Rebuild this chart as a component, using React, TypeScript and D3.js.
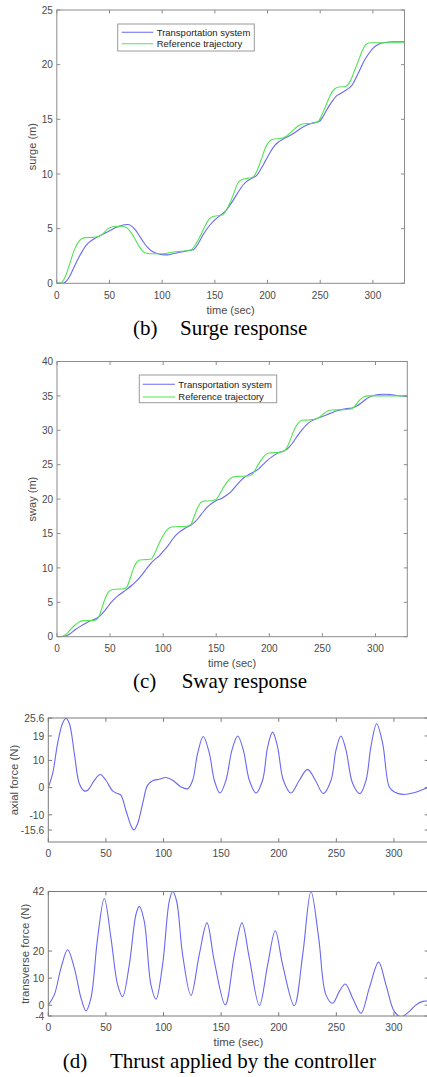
import React from "react";
import * as d3 from "d3";

// ---------- data ----------
const timeTicks = [0, 50, 100, 150, 200, 250, 300];
const surgeTicks = [0, 5, 10, 15, 20, 25];
const swayTicks = [0, 5, 10, 15, 20, 25, 30, 35, 40];
const axialTicks = [-15.6, -10, 0, 10, 19, 25.6];
const transverseTicks = [-4, 0, 10, 20, 42];
const legendLabels = ["Transportation system", "Reference trajectory"];

const surgeReference: [number, number][] = [
  [0, 0], [4, 0.05], [8, 0.6], [12, 1.7], [16, 2.9], [20, 3.7], [24, 4.1], [28, 4.18], [34, 4.2], [40, 4.3],
  [44, 4.55], [48, 4.95], [52, 5.15], [56, 5.22], [62, 5.22], [66, 5.1], [70, 4.7], [74, 4.1], [78, 3.4],
  [82, 2.9], [86, 2.72], [92, 2.7], [100, 2.7], [106, 2.78], [112, 2.88], [118, 2.92], [124, 3.0], [128, 3.1],
  [132, 3.6], [136, 4.3], [140, 5.1], [144, 5.8], [148, 6.1], [152, 6.18], [157, 6.25], [161, 6.7], [165, 7.5],
  [169, 8.5], [172, 9.2], [176, 9.5], [181, 9.6], [186, 9.7], [190, 10.3], [194, 11.3], [198, 12.4], [202, 13.0],
  [206, 13.2], [212, 13.25], [217, 13.4], [222, 13.8], [226, 14.15], [230, 14.45], [234, 14.6], [242, 14.62],
  [248, 14.8], [252, 15.5], [256, 16.4], [260, 17.3], [264, 17.8], [268, 17.95], [274, 18.0], [278, 18.4],
  [282, 19.3], [286, 20.3], [290, 21.3], [294, 21.9], [298, 22.0], [310, 22.0], [330, 22.0],
];
const surgeSystem: [number, number][] = [
  [0, 0], [5, 0.0], [8, 0.1], [12, 0.6], [16, 1.4], [20, 2.2], [24, 2.9], [28, 3.5], [32, 3.85], [36, 4.1],
  [40, 4.3], [44, 4.5], [48, 4.7], [52, 4.9], [56, 5.1], [60, 5.25], [64, 5.35], [67, 5.38], [70, 5.3],
  [74, 4.95], [78, 4.4], [82, 3.8], [86, 3.3], [90, 2.95], [95, 2.72], [100, 2.62], [105, 2.6], [110, 2.7],
  [115, 2.8], [120, 2.9], [126, 3.0], [130, 3.1], [134, 3.6], [138, 4.3], [142, 4.9], [146, 5.4], [150, 5.8],
  [155, 6.2], [160, 6.6], [164, 7.1], [168, 7.7], [172, 8.3], [176, 8.9], [180, 9.3], [185, 9.6], [190, 9.9],
  [194, 10.5], [198, 11.2], [202, 11.9], [206, 12.5], [210, 12.9], [215, 13.2], [220, 13.45], [226, 13.8],
  [232, 14.2], [238, 14.5], [244, 14.7], [249, 14.8], [253, 15.3], [257, 16.0], [261, 16.6], [265, 17.1],
  [270, 17.4], [275, 17.7], [280, 18.1], [284, 18.8], [288, 19.6], [292, 20.4], [296, 21.0], [300, 21.5],
  [305, 21.85], [310, 22.0], [320, 22.1], [330, 22.1],
];

const swayReference: [number, number][] = [
  [0, 0], [5, 0.05], [9, 0.4], [13, 1.1], [17, 1.7], [21, 2.15], [24, 2.3], [30, 2.35], [36, 2.4], [39, 2.8],
  [42, 4.0], [45, 5.4], [48, 6.4], [51, 6.8], [56, 6.9], [63, 6.95], [66, 7.3], [69, 8.5], [72, 9.9],
  [75, 10.8], [78, 11.15], [84, 11.2], [89, 11.3], [92, 12.1], [96, 13.5], [100, 14.7], [104, 15.6],
  [108, 15.95], [114, 16.0], [122, 16.05], [126, 16.3], [129, 17.4], [132, 18.6], [135, 19.4], [138, 19.7],
  [145, 19.75], [150, 20.0], [154, 20.9], [158, 22.0], [162, 22.8], [166, 23.2], [170, 23.3], [180, 23.35],
  [184, 23.6], [188, 24.6], [192, 25.6], [196, 26.4], [200, 26.7], [210, 26.8], [215, 27.1], [219, 28.3],
  [223, 29.9], [227, 31.0], [231, 31.45], [236, 31.5], [243, 31.6], [247, 31.9], [251, 32.4], [255, 32.8],
  [259, 32.95], [270, 33.0], [277, 33.1], [281, 33.6], [285, 34.4], [289, 34.85], [293, 35.0], [310, 35.0],
  [330, 35.0],
];
const swaySystem: [number, number][] = [
  [0, 0], [5, 0.0], [8, 0.1], [12, 0.4], [17, 1.0], [22, 1.5], [27, 1.95], [32, 2.35], [37, 2.65], [41, 3.1],
  [45, 3.8], [49, 4.6], [53, 5.3], [57, 5.9], [61, 6.35], [65, 6.8], [70, 7.4], [75, 8.1], [80, 9.0], [84, 9.8],
  [88, 10.6], [92, 11.2], [96, 11.7], [100, 12.4], [105, 13.3], [109, 14.2], [113, 14.9], [117, 15.4],
  [121, 15.8], [126, 16.2], [130, 16.7], [134, 17.4], [138, 18.2], [142, 18.9], [146, 19.4], [150, 19.8],
  [155, 20.1], [160, 20.6], [164, 21.1], [168, 21.8], [172, 22.5], [176, 23.1], [180, 23.5], [185, 23.9],
  [190, 24.4], [194, 25.0], [198, 25.6], [202, 26.1], [206, 26.5], [210, 26.8], [215, 27.1], [219, 27.6],
  [223, 28.4], [227, 29.3], [231, 30.1], [235, 30.8], [239, 31.3], [243, 31.6], [248, 31.9], [253, 32.2],
  [258, 32.5], [263, 32.8], [268, 33.0], [273, 33.15], [278, 33.25], [282, 33.5], [286, 33.9], [290, 34.4],
  [294, 34.8], [298, 35.05], [303, 35.2], [308, 35.25], [314, 35.2], [320, 35.05], [330, 34.9],
];

const axialForce: [number, number][] = [
  [0, 0], [3.8, 5.2], [8.1, 16.3], [12.4, 23.7], [15.3, 25.4], [18.2, 23.7], [22.6, 12.6], [26.9, 1.5],
  [31.2, -1.2], [34.1, -1.0], [40, 2.7], [45.1, 4.8], [50, 2.7], [55.8, -1.2], [60.2, -2.2], [63, -2.8],
  [67.4, -8.4], [71.8, -14], [74.3, -15.6], [77.5, -13.3], [81.9, -5.9], [86.2, 0.9], [90.6, 2.5], [96.4, 3.1],
  [102.1, 3.7], [108, 2.7], [115.2, 0.25], [121, -0.4], [125.3, 2.7], [129.6, 12.6], [134.5, 18.8],
  [139.8, 12.6], [144.1, 2.7], [149, -2.0], [154.2, 2.7], [159.4, 13.8], [164.4, 19], [169.3, 13.8],
  [174.5, 2.7], [180.3, -2], [186, 2.7], [190.4, 15], [194.7, 20.4], [199, 15], [204, 2.7], [210.6, -2],
  [217.9, 2.7], [225, 6.7], [231.8, 2.7], [238.7, -2.2], [245.4, 2.7], [249.7, 13.8], [254, 19], [258.4, 13.8],
  [264.2, 1.5], [270.5, -2.2], [275.8, 2.7], [280, 15], [285, 23.5], [290.2, 16.3], [296, 0.2], [300.4, -1.6],
  [307.6, -2.5], [316.3, -2.0], [327.8, -0.2], [330, 0.2],
];
const transverseForce: [number, number][] = [
  [0, 0.1], [5.2, 3.8], [11, 13.7], [16.8, 20.5], [22.6, 13.7], [28.4, 2.6], [32.7, -2.1], [37, 2.6],
  [42.8, 24.8], [48.6, 39.4], [54.4, 24.8], [60.2, 7.5], [64.5, 3.1], [70.3, 14.9], [76.1, 33.5], [79, 36.5],
  [83.3, 31], [89.1, 7.5], [93.5, 2.2], [99.2, 14.9], [105, 38.4], [108, 42], [111.4, 38.4], [116.6, 18.6],
  [123.8, 3.6], [131, 18.6], [137.7, 30.4], [144.1, 16.2], [153.6, 0.1], [161.5, 18.6], [168.1, 30.4],
  [174.5, 17.4], [183.2, -0.1], [190.4, 14.9], [197, 27.5], [203.4, 14.9], [213.5, -0.2], [220.8, 18.6],
  [228, 42], [234.7, 24.8], [241, 3.8], [246.8, 0.7], [252.6, 5.1], [257.8, 7.8], [264.2, 2.6], [271.4, -3],
  [278.6, 6.3], [286.7, 15.9], [293.1, 7.5], [300.3, -2.3], [306.1, -4.3], [313.4, -2.3], [319.2, 0.1],
  [325, 1.4], [330, 1.5],
];

// ---------- styling ----------
const BLUE = "#6868f2";
const GREEN = "#52e452";
const SANS = "'Liberation Sans', Arial, sans-serif";
const SERIF = "'Liberation Serif', 'Times New Roman', serif";

type Series = { data: [number, number][]; color: string; curve: any };

type PanelCfg = {
  id: string;
  left: number; right: number; top: number; bottom: number;
  yDomain: [number, number];
  yTicks: number[];
  yLabel: string; yLabelX: number;
  xLabel?: string; xLabelY?: number;
  xTickY: number;
  fontSize: number;
  tickLen: number;
  boxColor: string;
  series: Series[];
  legend?: { x: number; y: number; w: number; h: number; lineX1: number; lineX2: number; textX: number; rows: number[] };
};

function Panel({ cfg }: { cfg: PanelCfg }) {
  const x = d3.scaleLinear().domain([0, 330]).range([cfg.left, cfg.right]);
  const y = d3.scaleLinear().domain(cfg.yDomain).range([cfg.bottom, cfg.top]);
  const tickColor = cfg.boxColor;
  const labelColor = "#4a4a4a";
  return (
    <g>
      <defs>
        <clipPath id={`clip-${cfg.id}`}>
          <rect x={cfg.left} y={cfg.top} width={cfg.right - cfg.left} height={cfg.bottom - cfg.top} />
        </clipPath>
      </defs>
      <rect x={cfg.left} y={cfg.top} width={cfg.right - cfg.left} height={cfg.bottom - cfg.top} fill="#fff" />
      <g clipPath={`url(#clip-${cfg.id})`}>
        {cfg.series.map((s, i) => {
          const line = d3
            .line<[number, number]>()
            .x((d) => x(d[0]))
            .y((d) => y(d[1]))
            .curve(s.curve);
          return <path key={i} d={line(s.data) || ""} fill="none" stroke={s.color} strokeWidth={1.1} />;
        })}
      </g>
      <rect x={cfg.left} y={cfg.top} width={cfg.right - cfg.left} height={cfg.bottom - cfg.top} fill="none" stroke={cfg.boxColor} strokeWidth={1} />
      {timeTicks.map((t) => (
        <g key={`xt${t}`}>
          <line x1={x(t)} x2={x(t)} y1={cfg.bottom} y2={cfg.bottom - cfg.tickLen} stroke={tickColor} />
          <line x1={x(t)} x2={x(t)} y1={cfg.top} y2={cfg.top + cfg.tickLen} stroke={tickColor} />
          <text x={x(t)} y={cfg.xTickY} textAnchor="middle" fontFamily={SANS} fontSize={cfg.fontSize} fill={labelColor}>
            {t}
          </text>
        </g>
      ))}
      {cfg.yTicks.map((v) => (
        <g key={`yt${v}`}>
          <line x1={cfg.left} x2={cfg.left + cfg.tickLen} y1={y(v)} y2={y(v)} stroke={tickColor} />
          <line x1={cfg.right} x2={cfg.right - cfg.tickLen} y1={y(v)} y2={y(v)} stroke={tickColor} />
          <text x={cfg.left - 4} y={y(v) + cfg.fontSize * 0.36} textAnchor="end" fontFamily={SANS} fontSize={cfg.fontSize} fill={labelColor}>
            {String(v)}
          </text>
        </g>
      ))}
      <text
        transform={`translate(${cfg.yLabelX},${(cfg.top + cfg.bottom) / 2}) rotate(-90)`}
        textAnchor="middle"
        fontFamily={SANS}
        fontSize={cfg.fontSize * 1.1}
        fill={labelColor}
      >
        {cfg.yLabel}
      </text>
      {cfg.xLabel && (
        <text x={(cfg.left + cfg.right) / 2} y={cfg.xLabelY} textAnchor="middle" fontFamily={SANS} fontSize={cfg.fontSize * 1.1} fill={labelColor}>
          {cfg.xLabel}
        </text>
      )}
      {cfg.legend && (
        <g>
          <rect x={cfg.legend.x} y={cfg.legend.y} width={cfg.legend.w} height={cfg.legend.h} fill="#fff" stroke="#9a9a9a" strokeWidth={1} />
          {legendLabels.map((lab, i) => (
            <g key={lab}>
              <line
                x1={cfg.legend!.lineX1}
                x2={cfg.legend!.lineX2}
                y1={cfg.legend!.rows[i]}
                y2={cfg.legend!.rows[i]}
                stroke={cfg.series[i].color}
                strokeWidth={1.1}
              />
              <text x={cfg.legend!.textX} y={cfg.legend!.rows[i] + 3.4} fontFamily={SANS} fontSize={9.5} fill="#222">
                {lab}
              </text>
            </g>
          ))}
        </g>
      )}
    </g>
  );
}

const monotone = d3.curveMonotoneX;
const smooth = d3.curveCatmullRom.alpha(0.5);

const panels: PanelCfg[] = [
  {
    id: "surge", left: 56.8, right: 404.5, top: 10, bottom: 283.3,
    yDomain: [0, 25], yTicks: surgeTicks, yLabel: "surge (m)", yLabelX: 36,
    xLabel: "time (sec)", xLabelY: 314, xTickY: 299, fontSize: 10, tickLen: 3.5, boxColor: "#8c8c8c",
    series: [
      { data: surgeSystem, color: BLUE, curve: monotone },
      { data: surgeReference, color: GREEN, curve: monotone },
    ],
    legend: { x: 117.7, y: 24, w: 136.6, h: 27, lineX1: 121.7, lineX2: 153.3, textX: 156.7, rows: [32.3, 43.7] },
  },
  {
    id: "sway", left: 57, right: 407.3, top: 361.5, bottom: 636.7,
    yDomain: [0, 40], yTicks: swayTicks, yLabel: "sway (m)", yLabelX: 36,
    xLabel: "time (sec)", xLabelY: 667, xTickY: 652, fontSize: 10, tickLen: 3.5, boxColor: "#8c8c8c",
    series: [
      { data: swaySystem, color: BLUE, curve: monotone },
      { data: swayReference, color: GREEN, curve: monotone },
    ],
    legend: { x: 139.3, y: 375, w: 137.4, h: 27.7, lineX1: 142.7, lineX2: 175, textX: 178.3, rows: [384.3, 397] },
  },
  {
    id: "axial", left: 48.3, right: 428.5, top: 718, bottom: 842,
    yDomain: [-20, 25.6], yTicks: axialTicks, yLabel: "axial force (N)", yLabelX: 18,
    xTickY: 857, fontSize: 10.3, tickLen: 3.8, boxColor: "#7a7a7a",
    series: [{ data: axialForce, color: BLUE, curve: smooth }],
  },
  {
    id: "transverse", left: 48.3, right: 428.5, top: 891.5, bottom: 1016,
    yDomain: [-4, 42], yTicks: transverseTicks, yLabel: "transverse force (N)", yLabelX: 29,
    xLabel: "time (sec)", xLabelY: 1046, xTickY: 1031, fontSize: 10.3, tickLen: 3.8, boxColor: "#7a7a7a",
    series: [{ data: transverseForce, color: BLUE, curve: smooth }],
  },
];

const captions = [
  { tag: "(b)", text: "Surge response", tagX: 133, textX: 180, y: 335 },
  { tag: "(c)", text: "Sway response", tagX: 133, textX: 181.7, y: 688 },
  { tag: "(d)", text: "Thrust applied by the controller", tagX: 62.7, textX: 110, y: 1068 },
];

export default function App() {
  return (
    <svg
      width={427}
      height={1077}
      viewBox="0 0 427 1077"
      style={{ position: "absolute", left: 0, top: 0, background: "#fff" }}
    >
      <rect x={0} y={0} width={427} height={1077} fill="#fff" />
      {panels.map((p) => (
        <Panel key={p.id} cfg={p} />
      ))}
      {captions.map((c) => (
        <g key={c.tag}>
          <text x={c.tagX} y={c.y} fontFamily={SERIF} fontSize={21} fill="#000">
            {c.tag}
          </text>
          <text x={c.textX} y={c.y} fontFamily={SERIF} fontSize={21} fill="#000">
            {c.text}
          </text>
        </g>
      ))}
    </svg>
  );
}
